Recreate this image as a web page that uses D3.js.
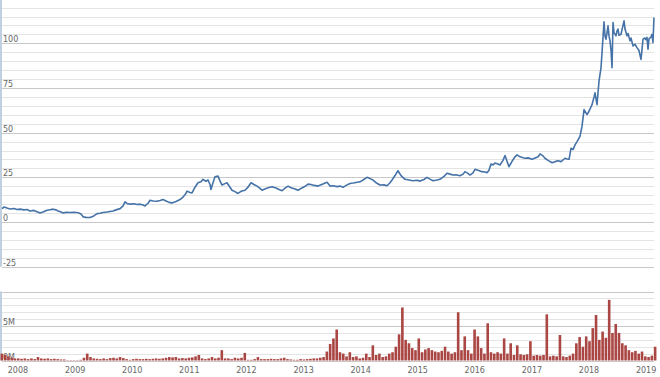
<!DOCTYPE html>
<meta charset="utf-8">
<html>
<head>
    <title>Price and volume</title>
    <script src="https://d3js.org/d3.v7.min.js"></script>
</head>
<style>
    body { margin: 0; background: white; }
    text { font-family: "DejaVu Sans", Verdana, sans-serif; }
</style>
<body>
<div id="chartdiv"></div>
<script>

// price series: decimal year and close value
const priceYears = [2007.720, 2007.755, 2007.808, 2007.860, 2007.930, 2007.983, 2008.035, 2008.105, 2008.158, 2008.210,
    2008.280, 2008.333, 2008.385, 2008.438, 2008.508, 2008.561, 2008.613, 2008.666, 2008.701, 2008.753,
    2008.788, 2008.841, 2008.911, 2008.981, 2009.051, 2009.104, 2009.139, 2009.191, 2009.261, 2009.314,
    2009.384, 2009.436, 2009.489, 2009.559, 2009.611, 2009.664, 2009.716, 2009.787, 2009.839, 2009.874,
    2009.909, 2009.962, 2010.032, 2010.084, 2010.137, 2010.189, 2010.224, 2010.277, 2010.312, 2010.364,
    2010.434, 2010.487, 2010.540, 2010.592, 2010.645, 2010.697, 2010.767, 2010.837, 2010.890, 2010.942,
    2010.960, 2011.012, 2011.047, 2011.100, 2011.152, 2011.205, 2011.240, 2011.292, 2011.328, 2011.363,
    2011.380, 2011.415, 2011.450, 2011.503, 2011.538, 2011.573, 2011.625, 2011.660, 2011.713, 2011.748,
    2011.800, 2011.853, 2011.906, 2011.976, 2012.028, 2012.081, 2012.133, 2012.186, 2012.238, 2012.273,
    2012.343, 2012.396, 2012.449, 2012.519, 2012.571, 2012.624, 2012.676, 2012.729, 2012.781, 2012.851,
    2012.904, 2012.956, 2013.026, 2013.079, 2013.131, 2013.184, 2013.254, 2013.307, 2013.359, 2013.412,
    2013.464, 2013.517, 2013.587, 2013.639, 2013.692, 2013.745, 2013.815, 2013.867, 2013.920, 2013.990,
    2014.042, 2014.112, 2014.165, 2014.217, 2014.270, 2014.340, 2014.410, 2014.463, 2014.515, 2014.550,
    2014.603, 2014.655, 2014.708, 2014.778, 2014.848, 2014.918, 2014.988, 2015.041, 2015.111, 2015.163,
    2015.216, 2015.268, 2015.338, 2015.391, 2015.461, 2015.513, 2015.566, 2015.618, 2015.671, 2015.741,
    2015.794, 2015.829, 2015.881, 2015.916, 2015.969, 2016.004, 2016.056, 2016.126, 2016.179, 2016.214,
    2016.249, 2016.284, 2016.319, 2016.354, 2016.406, 2016.441, 2016.494, 2016.529, 2016.564, 2016.599,
    2016.652, 2016.704, 2016.739, 2016.792, 2016.844, 2016.879, 2016.932, 2017.002, 2017.054, 2017.107,
    2017.142, 2017.194, 2017.229, 2017.282, 2017.352, 2017.405, 2017.457, 2017.510, 2017.580, 2017.615,
    2017.650, 2017.685, 2017.720, 2017.755, 2017.790, 2017.842, 2017.877, 2017.913, 2017.965, 2018.000,
    2018.053, 2018.088, 2018.105, 2018.140, 2018.175, 2018.210, 2018.228, 2018.263, 2018.281, 2018.298,
    2018.316, 2018.333, 2018.351, 2018.368, 2018.386, 2018.403, 2018.421, 2018.438, 2018.473, 2018.491,
    2018.508, 2018.526, 2018.561, 2018.578, 2018.614, 2018.631, 2018.666, 2018.684, 2018.719, 2018.736,
    2018.771, 2018.806, 2018.841, 2018.876, 2018.911, 2018.929, 2018.946, 2018.981, 2018.999, 2019.016,
    2019.034, 2019.051, 2019.069, 2019.086, 2019.104, 2019.121, 2019.139];

const priceVals = [7.5, 8.4, 7.8, 7.3, 7.6, 7.0, 7.2, 6.8, 7.0, 6.2,
    6.5, 5.8, 5.1, 5.6, 6.6, 6.9, 7.2, 6.8, 6.2, 5.6,
    5.1, 5.4, 5.3, 5.5, 5.2, 4.5, 2.9, 2.6, 2.5, 3.2,
    4.7, 4.9, 5.3, 5.6, 5.9, 6.2, 6.8, 7.5, 9.0, 11.3,
    10.4, 10.0, 10.2, 9.8, 10.0, 9.5, 9.0, 10.5, 12.2, 11.8,
    11.6, 12.0, 12.6, 11.8, 11.0, 10.7, 11.5, 12.6, 14.0, 16.0,
    17.3, 16.5, 16.3, 19.5, 22.0, 22.5, 23.9, 22.8, 23.5, 21.0,
    18.2, 22.0, 25.3, 25.7, 23.0, 20.7, 21.5, 22.0, 19.5, 17.8,
    17.0, 16.0, 17.2, 17.8, 19.5, 22.0, 21.0, 20.1, 18.8, 17.8,
    18.8, 19.3, 19.7, 19.0, 18.2, 17.5, 19.0, 20.1, 19.2, 18.5,
    17.8, 18.8, 20.0, 21.2, 21.0, 20.5, 20.1, 20.8, 21.5, 22.2,
    20.1, 20.3, 19.8, 20.1, 19.4, 20.5, 21.6, 21.8, 22.1, 22.5,
    23.5, 25.0, 24.3, 23.5, 22.0, 20.7, 20.8, 20.3, 22.0, 23.5,
    26.0, 28.7, 26.0, 23.9, 23.5, 23.1, 23.4, 22.9, 23.8, 25.0,
    24.0, 23.1, 23.5, 23.9, 25.5, 27.3, 26.8, 26.3, 26.5, 25.9,
    26.8, 28.2, 27.2, 26.3, 27.5, 29.5, 29.0, 28.2, 28.0, 27.6,
    29.0, 32.5, 32.0, 33.0, 32.5, 31.9, 34.5, 37.2, 34.0, 31.0,
    34.0, 36.5, 37.6, 36.5, 36.0, 35.7, 35.9, 35.1, 35.8, 36.5,
    38.1, 37.0, 35.7, 34.5, 33.2, 33.8, 34.3, 33.8, 35.7, 35.3,
    35.1, 41.3, 40.5, 43.2, 45.0, 47.9, 53.5, 62.9, 60.1, 62.0,
    65.7, 70.0, 72.3, 65.7, 78.8, 86.3, 94.8, 112.0, 104.0, 102.3,
    106.0, 109.8, 104.0, 101.4, 96.0, 86.4, 111.7, 106.0, 104.2, 107.0,
    108.0, 104.5, 105.1, 107.5, 112.6, 108.0, 104.2, 105.5, 101.4, 103.0,
    98.5, 99.5, 97.6, 96.0, 91.0, 96.5, 102.3, 103.0, 102.0, 103.3,
    96.7, 102.5, 103.0, 103.5, 105.0, 100.5, 114.5];

// volume series: one bar every 3 weeks from the first date, in millions
const volStart = "2007-09-20";
const volStepDays = 21;
const volVals = [1.0, 0.8, 0.6, 0.4, 0.3, 0.3, 0.25, 0.3, 0.2, 0.3,
    0.2, 0.5, 0.3, 0.25, 0.3, 0.2, 0.25, 0.2, 0.15, 0.15,
    0.05, 0.05, 0.05, 0.05, 0.1, 0.4, 1.0, 0.5, 0.3, 0.25,
    0.2, 0.3, 0.2, 0.35, 0.4, 0.3, 0.5, 0.35, 0.2, 0.1,
    0.2, 0.25, 0.2, 0.2, 0.25, 0.2, 0.25, 0.3, 0.25, 0.3,
    0.4, 0.5, 0.45, 0.5, 0.3, 0.35, 0.3, 0.4, 0.45, 0.6,
    0.8, 0.3, 0.2, 0.3, 0.5, 0.3, 0.4, 1.5, 0.3, 0.3,
    0.2, 0.4, 0.3, 0.4, 1.1, 0.1, 0.1, 0.2, 0.5, 0.2,
    0.2, 0.2, 0.25, 0.2, 0.2, 0.3, 0.4, 0.2, 0.15, 0.1,
    0.1, 0.2, 0.15, 0.2, 0.25, 0.3, 0.3, 0.4, 0.5, 1.3,
    2.4, 3.2, 4.5, 1.2, 1.0, 0.6, 1.2, 0.5, 0.6, 0.3,
    0.4, 1.0, 0.5, 2.2, 0.8, 1.0, 0.5, 0.6, 1.0, 1.2,
    2.0, 3.8, 7.7, 3.0, 2.5, 1.8, 1.5, 3.2, 1.2, 1.6,
    1.8, 1.5, 1.3, 1.2, 1.4, 2.0, 1.3, 1.0, 1.2, 7.0,
    1.5, 3.5, 1.5, 1.0, 4.5, 3.5, 1.8, 1.0, 5.4, 1.2,
    1.0, 1.2, 1.0, 3.2, 1.0, 2.5, 0.8, 2.2, 0.9, 0.8,
    0.9, 2.8, 0.7, 0.8, 0.7, 0.8, 6.7, 0.6, 0.7, 0.6,
    3.7, 0.6, 0.5, 0.7, 1.0, 2.5, 3.4, 2.0, 3.5, 2.8,
    4.7, 6.6, 3.0, 4.2, 3.3, 8.8, 4.0, 5.3, 4.0, 2.5,
    2.2, 1.5, 1.2, 1.4, 1.0, 1.3, 0.6, 0.5, 0.7, 2.0];

// axis ticks
const priceTicks = [-25, 0, 25, 50, 75, 100];
const volTicks = [0, 5];
const volTickLabels = ["0M", "5M"];

// layout
const width = 660, height = 377;
const plotLeft = 2, plotRight = 654;
const colorLine = "#4572A7";
const colorVol = "#AA4643";
const colorMinor = "#E4E4E4";
const colorMajor = "#C8C8C8";
const colorLabel = "#666";

// decimal year -> Date (UTC)
var yearToDate = function(t) {
    var y = Math.floor(t);
    var a = Date.UTC(y, 0, 1), b = Date.UTC(y + 1, 0, 1);
    return new Date(a + (t - y) * (b - a));
};

var price = priceYears.map((t, i) => ({ date: yearToDate(t), value: priceVals[i] }));
var vol = volVals.map((v, i) => ({
    date: d3.utcDay.offset(new Date(volStart + "T00:00:00Z"), i * volStepDays),
    value: v
}));

// scales
var scaleX = d3.scaleUtc()
    .domain([yearToDate(2007.72), yearToDate(2019.139)])
    .range([plotLeft, plotRight]);

var scaleY = d3.scaleLinear()
    .domain([-25, 120])
    .range([266.7, 7.6]);

var scaleV = d3.scaleLinear()
    .domain([0, 10])
    .range([360.5, 291.6]);

const svg = d3.select("#chartdiv")
    .append("svg")
    .attr("width", width)
    .attr("height", height);

// price panel grid
var minorP = d3.range(-25, 121, 5);
svg.append("g").selectAll("line")
    .data(minorP)
    .enter()
    .append("line")
    .attr("x1", plotLeft).attr("x2", plotRight)
    .attr("y1", d => Math.round(scaleY(d)) + 0.5)
    .attr("y2", d => Math.round(scaleY(d)) + 0.5)
    .attr("stroke", d => (d % 25 === 0) ? colorMajor : colorMinor)
    .attr("stroke-width", 1);

svg.append("g").selectAll("text")
    .data(priceTicks)
    .enter()
    .append("text")
    .attr("x", 3)
    .attr("y", d => Math.round(scaleY(d)) - 1.5)
    .style("font-size", "8px")
    .attr("fill", colorLabel)
    .text(d => d);

// volume panel grid
var minorV = d3.range(0, 11, 1);
svg.append("g").selectAll("line")
    .data(minorV)
    .enter()
    .append("line")
    .attr("x1", plotLeft).attr("x2", plotRight)
    .attr("y1", d => Math.round(scaleV(d)) + 0.5)
    .attr("y2", d => Math.round(scaleV(d)) + 0.5)
    .attr("stroke", d => (d % 5 === 0) ? colorMajor : colorMinor)
    .attr("stroke-width", 1);

svg.append("g").selectAll("text")
    .data(volTicks)
    .enter()
    .append("text")
    .attr("x", 3)
    .attr("y", d => Math.round(scaleV(d)) - 1.5)
    .style("font-size", "8px")
    .attr("fill", colorLabel)
    .text((d, i) => volTickLabels[i]);

// left axis lines
svg.append("line")
    .attr("x1", 1).attr("x2", 1)
    .attr("y1", scaleY(120) - 8).attr("y2", scaleY(-25))
    .attr("stroke", "#C0D0E0").attr("stroke-width", 2);
svg.append("line")
    .attr("x1", 1).attr("x2", 1)
    .attr("y1", scaleV(10)).attr("y2", scaleV(0))
    .attr("stroke", "#C0D0E0").attr("stroke-width", 2);

// volume bars
const barW = 2.6;
svg.append("g").selectAll("rect")
    .data(vol)
    .enter()
    .append("rect")
    .attr("x", d => scaleX(d.date) - barW / 2)
    .attr("y", d => scaleV(d.value))
    .attr("width", barW)
    .attr("height", d => scaleV(0) - scaleV(d.value))
    .attr("fill", colorVol);

// price line
var line = d3.line()
    .x(d => scaleX(d.date))
    .y(d => scaleY(d.value));

svg.append("path")
    .datum(price)
    .attr("d", line)
    .attr("fill", "none")
    .attr("stroke", colorLine)
    .attr("stroke-width", 1.6)
    .attr("stroke-linejoin", "round");

// x axis year labels
var years = d3.utcYear.range(new Date(Date.UTC(2008, 0, 1)), new Date(Date.UTC(2019, 6, 1)));
svg.append("g").selectAll("text")
    .data(years)
    .enter()
    .append("text")
    .attr("x", d => scaleX(d))
    .attr("y", 372.5)
    .attr("text-anchor", "middle")
    .style("font-size", "8px")
    .attr("fill", colorLabel)
    .text(d => d3.utcFormat("%Y")(d));

</script>
</body>
</html>
